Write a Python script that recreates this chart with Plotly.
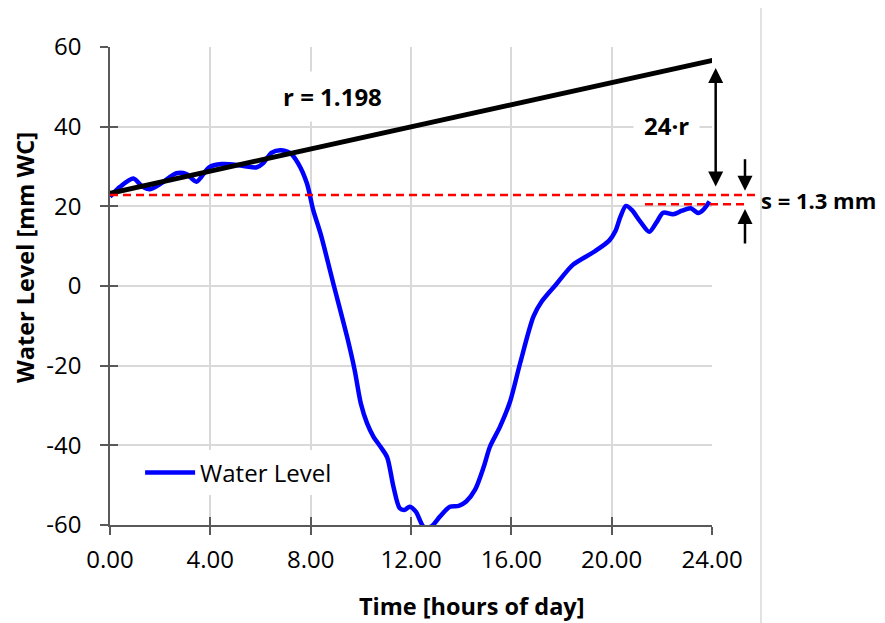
import plotly.graph_objects as go

# ── DESIGN TOKENS ────────────────────────────────────────────────
FONT = "Open Sans"
BLUE = "#0000FF"
RED = "#FF0000"
GRID = "#D9D9D9"
AXIS = "#595959"

# ── DATA ─────────────────────────────────────────────────────────
hours = [0.0, 0.4, 0.93, 1.3, 1.6, 2.0, 2.65, 3.05, 3.45, 3.95,
         4.45, 5.05, 5.45, 5.85, 6.1, 6.45, 6.8, 7.2, 7.5, 7.85,
         8.1, 8.4, 8.9, 9.45, 9.75, 10.0, 10.25, 10.5, 10.8, 11.05,
         11.3, 11.55, 11.75, 11.95, 12.2, 12.5, 12.8, 13.15, 13.55, 13.9,
         14.2, 14.55, 14.9, 15.15, 15.55, 15.95, 16.35, 16.88, 17.21, 17.8,
         18.45, 19.3, 19.9, 20.15, 20.35, 20.57, 20.8, 21.15, 21.5, 21.8,
         22.05, 22.45, 22.8, 23.15, 23.45, 23.65, 23.9]
water_level = [22.4, 24.9, 27.0, 24.9, 24.3, 25.6, 28.3, 28.1, 26.2, 29.8,
               30.6, 30.4, 30.0, 29.8, 30.8, 33.5, 34.1, 33.3, 30.8, 25.8,
               19.1, 13.0, 0.7, -12.7, -21.0, -29.5, -34.5, -37.8, -40.5, -43.0,
               -50.4, -55.8, -56.2, -55.4, -56.7, -60.4, -60.4, -57.9, -55.4, -55.2,
               -54.1, -51.2, -45.4, -40.3, -35.3, -29.0, -19.4, -7.7, -3.9, 0.5,
               5.3, 8.6, 11.4, 13.8, 17.4, 20.1, 19.1, 16.1, 13.6, 16.1,
               18.4, 18.0, 18.9, 19.5, 18.3, 19.1, 21.2]

trend_x = [0.0, 24.2]
trend_y = [23.3, 56.9]

level_start = 22.85   # upper red reference line
level_end = 20.5      # lower red reference line

x_ticks = [0, 4, 8, 12, 16, 20, 24]
x_labels = ["0.00", "4.00", "8.00", "12.00", "16.00", "20.00", "24.00"]
y_ticks = [-60, -40, -20, 0, 20, 40, 60]
y_labels = ["-60", "-40", "-20", "0", "20", "40", "60"]

fig = go.Figure()
fig.add_trace(go.Scatter(
    x=hours, y=water_level, mode="lines", name="Water Level",
    line=dict(color=BLUE, width=4.5, shape="spline", smoothing=0.8),
))
fig.add_trace(go.Scatter(
    x=trend_x, y=trend_y, mode="lines", showlegend=False,
    xaxis="x2", yaxis="y2", cliponaxis=False,
    line=dict(color="black", width=5),
))

# red dashed reference levels (extend past the plot area)
fig.add_shape(type="line", xref="paper", yref="y", x0=0, x1=1.0714,
              y0=level_start, y1=level_start,
              line=dict(color=RED, width=2.5, dash="8px,5px"))
fig.add_shape(type="line", xref="paper", yref="y", x0=0.8887, x1=1.058,
              y0=level_end, y1=level_end,
              line=dict(color=RED, width=2.5, dash="8px,5px"))
# chart border line on the right
fig.add_shape(type="line", xref="paper", yref="paper", x0=1.0814, x1=1.0814,
              y0=-0.205, y1=1.082, line=dict(color=GRID, width=1.5))

bold = dict(family=FONT, size=24, color="black")
fig.add_annotation(x=8.89, y=47.5, text="<b>r = 1.198</b>", showarrow=False,
                   font=bold, bgcolor="white", borderpad=8)
fig.add_annotation(x=22.2, y=40.2, text="<b>24·r</b>", showarrow=False,
                   font=bold, bgcolor="white", borderpad=10)
fig.add_annotation(x=1.0784, xref="paper", y=21.6, text="<b>s = 1.3 mm</b>",
                   showarrow=False, xanchor="left", yanchor="middle",
                   font=dict(family=FONT, size=22, color="black"))

# arrows
arrow = dict(showarrow=True, text="", arrowhead=2, arrowsize=1.2,
             arrowwidth=2.5, arrowcolor="black", xref="paper", ax=0)
fig.add_annotation(x=1.0061, y=54.7, ay=120, arrowside="end+start", **arrow)
fig.add_annotation(x=1.0548, y=23.9, ay=-33, **arrow)
fig.add_annotation(x=1.0548, y=19.3, ay=36, **arrow)

# axis titles (offset from axis centre like the original)
title_font = dict(family=FONT, size=23.5, color="black")
fig.add_annotation(x=0.6005, y=-0.1695, xref="paper", yref="paper",
                   xanchor="center", yanchor="middle",
                   text="<b>Time [hours of day]</b>", showarrow=False, font=title_font)
fig.add_annotation(x=-0.1412, y=0.5607, xref="paper", yref="paper",
                   xanchor="center", yanchor="middle",
                   text="<b>Water Level [mm WC]</b>", showarrow=False, textangle=-90,
                   font=title_font)

axis_common = dict(showline=True, linecolor=AXIS, linewidth=1.5, zeroline=False,
                   ticks="outside", ticklen=8, tickwidth=1.5, tickcolor=AXIS,
                   gridcolor=GRID, gridwidth=1.5,
                   tickfont=dict(family=FONT, size=24, color="black"))
inner_ticks = dict(ticks="inside", ticklen=8, tickwidth=1.5, tickcolor=AXIS,
                   showticklabels=False, showgrid=False, zeroline=False, showline=False)

# page body has an 8px margin, so the figure is trimmed by 8px on each axis
fig.update_layout(
    width=877, height=615,
    margin=dict(l=102, r=173, t=39, b=98),
    plot_bgcolor="white", paper_bgcolor="white",
    font=dict(family=FONT, color="black"),
    xaxis=dict(range=[0, 24], tickvals=x_ticks, ticktext=x_labels,
               ticklabelstandoff=4, **axis_common),
    yaxis=dict(range=[-60, 60], tickvals=y_ticks, ticktext=y_labels,
               ticklabelstandoff=14, **axis_common),
    xaxis2=dict(range=[0, 24], tickvals=x_ticks, overlaying="x", anchor="y2", **inner_ticks),
    yaxis2=dict(range=[-60, 60], tickvals=y_ticks, overlaying="y", anchor="x2", **inner_ticks),
    legend=dict(x=0.05, y=0.109, xanchor="left", yanchor="middle",
                bgcolor="white", itemwidth=50,
                font=dict(family=FONT, size=24, color="black")),
    showlegend=True,
)

fig.write_html("out.html")
